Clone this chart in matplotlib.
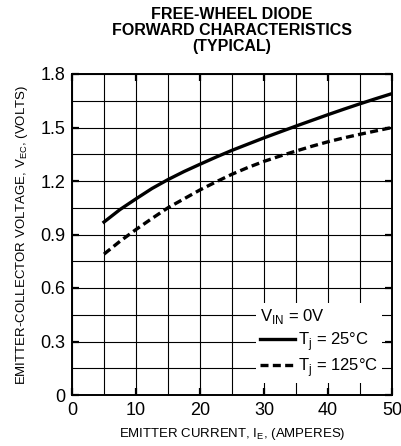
import numpy as np
import matplotlib
matplotlib.use("Agg")
import matplotlib.pyplot as plt
from matplotlib.ticker import MultipleLocator

plt.rcParams['font.family'] = ['Liberation Sans', 'DejaVu Sans']
plt.rcParams['mathtext.fontset'] = 'custom'
plt.rcParams['mathtext.rm'] = 'Liberation Sans'

#----------- datos ------------------------------------------
ie = [5, 7.5, 10, 12.5, 15, 17.5, 20, 22.5, 25, 27.5, 30, 32.5, 35, 37.5, 40, 42.5, 45, 47.5, 50]
vec_25 = [0.97, 1.04, 1.10, 1.158, 1.208, 1.253, 1.294, 1.334, 1.372, 1.407, 1.442,
          1.475, 1.508, 1.54, 1.572, 1.603, 1.633, 1.662, 1.69]
vec_125 = [0.79, 0.862, 0.928, 0.99, 1.05, 1.10, 1.15, 1.195, 1.238, 1.276, 1.31,
           1.34, 1.368, 1.395, 1.42, 1.442, 1.462, 1.481, 1.50]

titulo = "FREE-WHEEL DIODE\nFORWARD CHARACTERISTICS\n(TYPICAL)"
xlabel = r"EMITTER CURRENT, I$_{\rm E}$, (AMPERES)"
ylabel = r"EMITTER-COLLECTOR VOLTAGE, V$_{\rm EC}$, (VOLTS)"
leyenda_titulo = r"V$_{\rm IN}$ = 0V"
etiquetas = [r"T$_{\rm j}$ = 25°C", r"T$_{\rm j}$ = 125°C"]

#----------- figura -----------------------------------------
fig = plt.figure(figsize=(4.01, 4.46), dpi=100)
ax = fig.add_axes([72/401, 51/446, 320/401, 321/446])

ax.plot(ie, vec_25, color='black', lw=2.4, ls='-', label=etiquetas[0], zorder=3)
ax.plot(ie, vec_125, color='black', lw=2.4, ls=(0, (2.4, 1.3)), label=etiquetas[1], zorder=3)

ax.set_xlim(0, 50)
ax.set_ylim(0, 1.8)
ax.xaxis.set_major_locator(MultipleLocator(10))
ax.xaxis.set_minor_locator(MultipleLocator(5))
ax.yaxis.set_major_locator(MultipleLocator(0.3))
ax.yaxis.set_minor_locator(MultipleLocator(0.15))
ax.yaxis.set_major_formatter(plt.FuncFormatter(lambda v, p: '0' if v == 0 else f'{v:.1f}'))

ax.grid(which='both', color='black', lw=0.8)
ax.set_axisbelow(True)
ax.tick_params(which='major', direction='in', length=5, width=1.6,
               top=True, right=True, labelsize=13, pad=5)
ax.tick_params(which='minor', length=0)
for s in ax.spines.values():
    s.set_linewidth(1.4)

ax.set_xlabel(xlabel, fontsize=9.5, labelpad=5)
ax.set_ylabel(ylabel, fontsize=9.5, labelpad=7)

fig.text(232/401, 1 - 7/446, titulo, ha='center', va='top',
         fontsize=11.5, fontweight='bold', linespacing=1.08)

leg = ax.legend(title=leyenda_titulo, loc='lower right', bbox_to_anchor=(0.969, 0.037),
                borderaxespad=0,
                fontsize=12, title_fontsize=12, frameon=True, fancybox=False,
                edgecolor='none', facecolor='white', framealpha=1,
                handlelength=2.1, handletextpad=0.15, borderpad=0.25,
                labelspacing=0.2, alignment='left')

fig.savefig('out.png', dpi=100)
